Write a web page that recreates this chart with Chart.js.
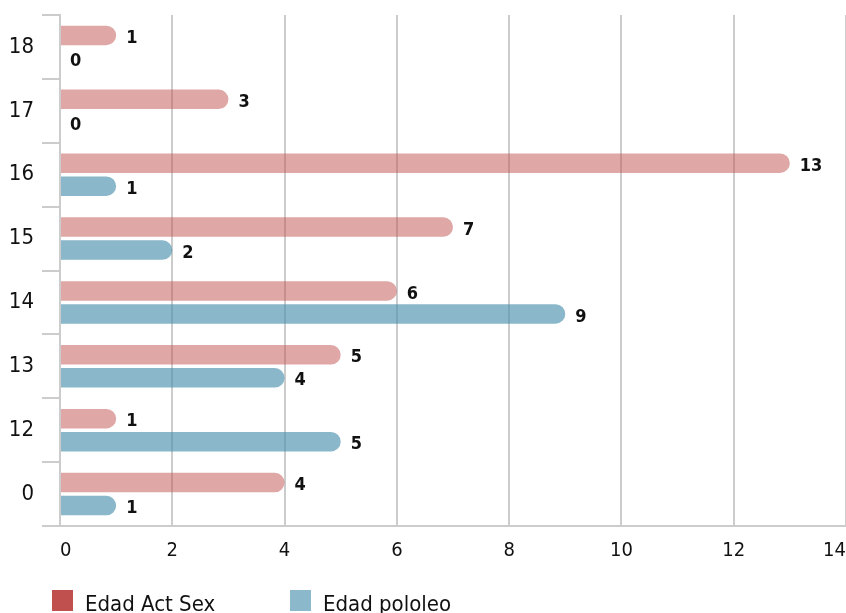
<!DOCTYPE html>
<html>
<head>
<meta charset="utf-8">
<script src="https://cdn.jsdelivr.net/npm/chart.js@4/dist/chart.umd.min.js"></script>
<style>
  html, body { margin: 0; padding: 0; background: #fff; overflow: hidden; }
  #wrap { position: relative; width: 846px; height: 613px; }
  #c { position: absolute; left: 0; top: 0; }
  .leg { position: absolute; top: 590px; height: 23px; display: flex; align-items: flex-start;
         font-family: 'Liberation Sans Narrow', 'DejaVu Sans Condensed', sans-serif; font-size: 22px; color: #111; }
  .leg span.box { display: inline-block; width: 21px; height: 21px; margin-right: 12px; }
  .leg span.txt { line-height: 22px; margin-top: 3px; }
</style>
</head>
<body>
<div id="wrap">
  <canvas id="c" width="846" height="613"></canvas>
  <div class="leg" style="left:52px"><span class="box" style="background:#c0504d"></span><span class="txt">Edad Act Sex</span></div>
  <div class="leg" style="left:290px"><span class="box" style="background:#8bb8cb"></span><span class="txt">Edad pololeo</span></div>
</div>
<script>
const categories = ['18', '17', '16', '15', '14', '13', '12', '0'];
const edadActSex = [1, 3, 13, 7, 6, 5, 1, 4];
const edadPololeo = [0, 0, 1, 2, 9, 4, 5, 1];
const xTicks = [0, 2, 4, 6, 8, 10, 12, 14];

const FONT = "'Liberation Sans Narrow', 'DejaVu Sans Condensed', sans-serif";

const valueLabels = {
  id: 'valueLabels',
  afterDatasetsDraw(chart) {
    const ctx = chart.ctx;
    ctx.save();
    ctx.font = 'bold 18px ' + FONT;
    ctx.fillStyle = '#111';
    ctx.textAlign = 'left';
    ctx.textBaseline = 'middle';
    chart.data.datasets.forEach((ds, i) => {
      const meta = chart.getDatasetMeta(i);
      meta.data.forEach((el, j) => {
        ctx.fillText(String(ds.data[j]), el.x + 10, el.y + 3);
      });
    });
    ctx.restore();
  }
};

new Chart(document.getElementById('c'), {
  type: 'bar',
  data: {
    labels: categories,
    datasets: [
      { label: 'Edad Act Sex', data: edadActSex, backgroundColor: 'rgba(192,80,77,0.5)',
        borderRadius: 10, borderSkipped: 'start', categoryPercentage: 0.72, barPercentage: 0.85 },
      { label: 'Edad pololeo', data: edadPololeo, backgroundColor: 'rgba(75,145,172,0.65)',
        borderRadius: 10, borderSkipped: 'start', categoryPercentage: 0.72, barPercentage: 0.85 }
    ]
  },
  options: {
    indexAxis: 'y',
    responsive: false,
    animation: false,
    devicePixelRatio: 1,
    layout: { padding: { top: 15, right: 0, bottom: 0, left: 0 } },
    plugins: { legend: { display: false }, tooltip: { enabled: false } },
    scales: {
      x: {
        min: 0, max: 14,
        afterBuildTicks(scale) { scale.ticks = xTicks.map(v => ({ value: v })); },
        afterFit(scale) { scale.height = 87; scale.paddingRight = 0; scale.paddingLeft = 0; },
        grid: { color: '#cccccc', lineWidth: 2, drawTicks: false },
        border: { display: true, color: '#cccccc', width: 2 },
        ticks: { font: { family: FONT, size: 20 }, color: '#111', padding: 13, align: 'inner' }
      },
      y: {
        afterFit(scale) { scale.width = 60; scale.paddingTop = 0; scale.paddingBottom = 0; },
        grid: { drawOnChartArea: false, drawTicks: true, tickLength: 18, color: '#cccccc', lineWidth: 2 },
        border: { display: true, color: '#cccccc', width: 2 },
        ticks: { font: { family: FONT, size: 22 }, color: '#111', padding: 8 }
      }
    }
  },
  plugins: [valueLabels]
});
</script>
</body>
</html>
